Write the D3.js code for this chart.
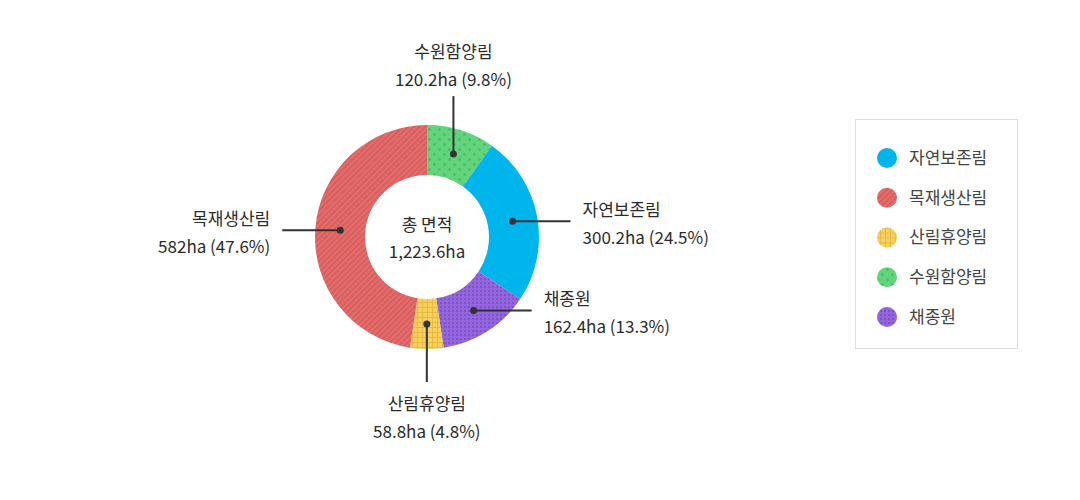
<!DOCTYPE html>
<html>
<head>
<meta charset="utf-8">
<script src="https://cdn.jsdelivr.net/npm/d3@7"></script>
<style>
  body { margin: 0; background: #fff; }
  svg text { font-family: "Noto Sans CJK KR", "Noto Sans", sans-serif; fill: #2b2b2b; }
</style>
</head>
<body>
<svg id="chart" width="1080" height="500"></svg>
<script>
// legend order
var categories = ["자연보존림", "목재생산림", "산림휴양림", "수원함양림", "채종원"];
var areas = [300.2, 582, 58.8, 120.2, 162.4];
var shares = [24.5, 47.6, 4.8, 9.8, 13.3];
// order of the slices, clockwise from 12 o'clock
var sliceOrder = ["수원함양림", "자연보존림", "채종원", "산림휴양림", "목재생산림"];
var totalArea = "1,223.6ha";

var colors = {
	"자연보존림": "#00b5ec",
	"목재생산림": "#e46d6c",
	"산림휴양림": "#f8d15c",
	"수원함양림": "#62d47c",
	"채종원": "#9466de"
};
// where the callout goes for each slice
var side = {
	"수원함양림": "up",
	"자연보존림": "right",
	"채종원": "right",
	"산림휴양림": "down",
	"목재생산림": "left"
};

var svg = d3.select('#chart'),
	cx = 427, cy = 237,
	outerR = 112, innerR = 62;

// fill patterns
var defs = svg.append("defs");

function pat(id, size) {
	return defs.append("pattern")
		.attr("id", id)
		.attr("patternUnits", "userSpaceOnUse")
		.attr("width", size).attr("height", size);
}

var p = pat("p-red", 4).attr("patternTransform", "rotate(-45)");
p.append("rect").attr("width", 4).attr("height", 4).attr("fill", colors["목재생산림"]);
p.append("rect").attr("width", 4).attr("height", 1.5).attr("fill", "#d35a5b");

p = pat("p-yellow", 5);
p.append("rect").attr("width", 5).attr("height", 5).attr("fill", colors["산림휴양림"]);
p.append("rect").attr("width", 5).attr("height", 1).attr("fill", "#e8b845");
p.append("rect").attr("width", 1).attr("height", 5).attr("fill", "#e8b845");

p = pat("p-green", 10);
p.append("rect").attr("width", 10).attr("height", 10).attr("fill", colors["수원함양림"]);
p.append("circle").attr("cx", 2.5).attr("cy", 2.5).attr("r", 1.3).attr("fill", "#45b862");
p.append("circle").attr("cx", 7.5).attr("cy", 7.5).attr("r", 1.3).attr("fill", "#45b862");

p = pat("p-purple", 4);
p.append("rect").attr("width", 4).attr("height", 4).attr("fill", colors["채종원"]);
p.append("circle").attr("cx", 2).attr("cy", 2).attr("r", 1.1).attr("fill", "#7a4cc4");

var fills = {
	"자연보존림": colors["자연보존림"],
	"목재생산림": "url(#p-red)",
	"산림휴양림": "url(#p-yellow)",
	"수원함양림": "url(#p-green)",
	"채종원": "url(#p-purple)"
};

var slices = sliceOrder.map(function(name) {
	var i = categories.indexOf(name);
	return {name: name, area: areas[i], share: shares[i]};
});

var pie = d3.pie()
	.sort(null)
	.value(function(d) { return d.area; });

var arc = d3.arc()
	.innerRadius(innerR)
	.outerRadius(outerR);

var donut = svg.append("g")
	.attr("transform", "translate(" + cx + "," + cy + ")");

var arcs = pie(slices);

donut.selectAll("path.slice")
	.data(arcs)
	.enter().append("path")
	.attr("class", "slice")
	.attr("d", arc)
	.attr("fill", function(d) { return fills[d.data.name]; });

// center text
donut.append("text")
	.attr("text-anchor", "middle")
	.attr("y", -6)
	.style("font-size", "17px")
	.text("총 면적");
donut.append("text")
	.attr("text-anchor", "middle")
	.attr("y", 21)
	.style("font-size", "17px")
	.text(totalArea);

// callouts
var lineLen = 58, gap = 12;
var callout = donut.selectAll("g.callout")
	.data(arcs)
	.enter().append("g")
	.attr("class", "callout");

callout.each(function(d) {
	var g = d3.select(this),
		c = arc.centroid(d),
		s = side[d.data.name],
		x2 = c[0], y2 = c[1];
	if (s == "up") y2 -= lineLen;
	if (s == "down") y2 += lineLen;
	if (s == "right") x2 += lineLen;
	if (s == "left") x2 -= lineLen;

	g.append("line")
		.attr("x1", c[0]).attr("y1", c[1])
		.attr("x2", x2).attr("y2", y2)
		.attr("stroke", "#333").attr("stroke-width", 2);
	g.append("circle")
		.attr("cx", c[0]).attr("cy", c[1]).attr("r", 3.5)
		.attr("fill", "#333");

	var lines = [d.data.name, d.data.area + "ha (" + d.data.share + "%)"];
	var tx = x2, ty, anchor = "middle";
	if (s == "up") ty = y2 - 38;
	if (s == "down") ty = y2 + 28;
	if (s == "right") { tx = x2 + gap; ty = y2 - 5; anchor = "start"; }
	if (s == "left") { tx = x2 - gap; ty = y2 - 5; anchor = "end"; }

	g.selectAll("text")
		.data(lines)
		.enter().append("text")
		.attr("x", tx)
		.attr("y", function(t, i) { return ty + i * 28; })
		.attr("text-anchor", anchor)
		.style("font-size", "17px")
		.text(function(t) { return t; });
});

// legend
var legend = svg.append("g")
	.attr("transform", "translate(855,119)");

legend.append("rect")
	.attr("x", 0.5).attr("y", 0.5)
	.attr("width", 162).attr("height", 229)
	.attr("fill", "#fff")
	.attr("stroke", "#ddd");

var legendY = d3.scalePoint()
	.domain(categories)
	.range([39, 198]);

var item = legend.selectAll("g.item")
	.data(categories)
	.enter().append("g")
	.attr("class", "item")
	.attr("transform", function(d) { return "translate(0," + legendY(d) + ")"; });

item.append("circle")
	.attr("cx", 32).attr("r", 10)
	.attr("fill", function(d) { return fills[d]; });

item.append("text")
	.attr("x", 54)
	.attr("dy", "0.35em")
	.style("font-size", "17px")
	.style("fill", "#444")
	.text(function(d) { return d; });
</script>
</body>
</html>
